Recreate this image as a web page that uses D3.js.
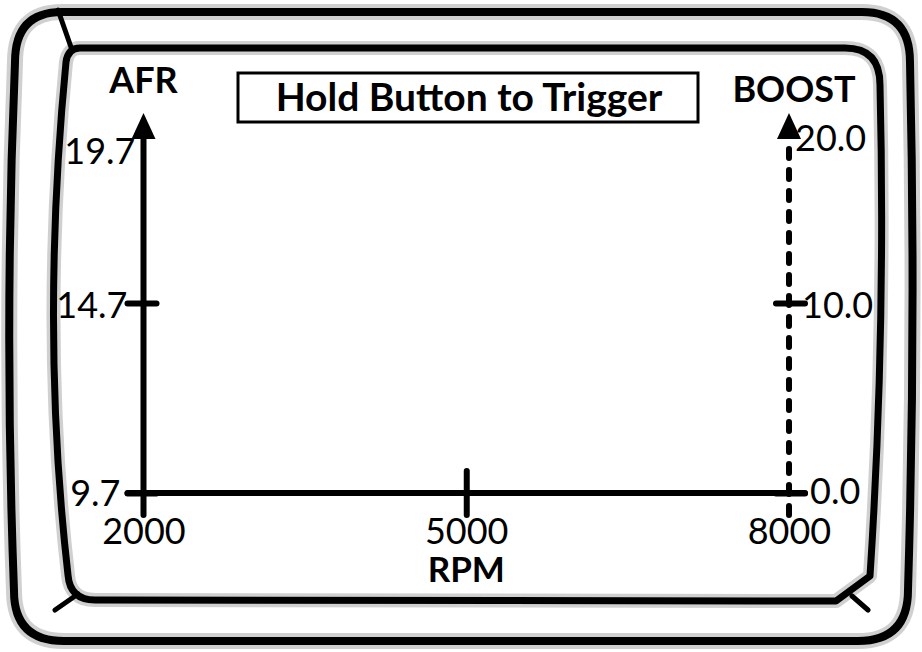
<!DOCTYPE html>
<html><head><meta charset="utf-8">
<script src="https://cdn.jsdelivr.net/npm/d3@7"></script>
<style>
html,body{margin:0;padding:0;background:#fff;}
svg{display:block;}
text{font-family:Lato,"Open Sans",sans-serif;fill:#000;}
</style></head><body>
<svg id="chart" width="922" height="652"></svg>
<script>
// ---- data ----
const rpmTicks = [2000, 5000, 8000];
const afrTicks = [9.7, 14.7, 19.7];
const boostTicks = [0.0, 10.0, 20.0];
const afrSeries = [];   // no trace recorded yet
const boostSeries = [];
const titleText = "Hold Button to Trigger";
const xTitle = "RPM", leftTitle = "AFR", rightTitle = "BOOST";

// ---- layout ----
const svg = d3.select("#chart");
const x = d3.scaleLinear().domain([rpmTicks[0], rpmTicks[rpmTicks.length-1]]).range([143.5, 789]);
const yL = d3.scaleLinear().domain([afrTicks[0], afrTicks[afrTicks.length-1]]).range([493, 113]);
const yR = d3.scaleLinear().domain([boostTicks[0], boostTicks[boostTicks.length-1]]).range([493, 113]);
const baseY = yL.range()[0];
const topY = yL.range()[1];

svg.append("rect").attr("width", 922).attr("height", 652).attr("fill", "#fff");

// ---- frame ----
const frame = svg.append("g").attr("fill", "none").attr("stroke", "#000").attr("stroke-linejoin", "round").attr("stroke-linecap", "round");
const outerD = "M62,12 L862,12 Q910,12 910,62 Q916,326 908,590 Q908,641 858,641 L64,641 Q14,641 14,591 Q4,326 15,62 Q15,12 62,12 Z";
const innerD = "M80,48 L845,48 Q880,48 880,85 Q886,330 870,576 L836,601 L95,600 Q70,600 68,575 Q40,330 66,62 Q68,48 80,48 Z";
// soft scan halo
frame.append("path").attr("stroke", "#aaa").attr("stroke-width", 16).attr("stroke-opacity", 0.55).attr("d", outerD);
frame.append("path").attr("stroke", "#aaa").attr("stroke-width", 14).attr("stroke-opacity", 0.55).attr("d", innerD);
// outer
frame.append("path").attr("stroke-width", 8).attr("d", outerD);
// inner
frame.append("path").attr("stroke-width", 7).attr("d", innerD);
// corner bevels
frame.append("path").attr("stroke-width", 5)
  .attr("d", "M58,10 L72,50 M55,610 L78,594 M852,596 L868,610");
// cover halo spill inside the screen
svg.append("path").attr("fill", "#fff")
  .attr("d", "M86,56 L840,56 Q872,56 872,88 Q878,330 862,572 L832,593 L98,592 Q78,592 76,572 Q49,330 74,66 Q76,56 86,56 Z");

// ---- title ----
svg.append("rect").attr("x", 238).attr("y", 73).attr("width", 460).attr("height", 49)
  .attr("fill", "#fff").attr("stroke", "#000").attr("stroke-width", 3);
svg.append("text").attr("x", 469).attr("y", 111).attr("text-anchor", "middle")
  .attr("font-weight", 700).attr("font-size", 39).text(titleText);

// ---- x axis ----
const gx = svg.append("g").attr("transform", `translate(0,${baseY})`)
  .call(d3.axisBottom(x).tickValues(rpmTicks).tickFormat(d3.format("d")).tickSizeOuter(0));
gx.select(".domain").remove();
gx.selectAll(".tick line").attr("y1", -22).attr("y2", 22)
  .attr("stroke", "#000").attr("stroke-width", 6).attr("stroke-linecap", "round")
  .attr("display", (d, i) => (i === 0 || i === rpmTicks.length-1) ? "none" : null);
gx.selectAll(".tick text").attr("y", 51).attr("dy", null)
  .attr("font-size", 36).attr("font-family", "Lato").attr("fill", "#000");
gx.append("line").attr("x1", x.range()[0]-16).attr("x2", x.range()[1]+16)
  .attr("stroke", "#000").attr("stroke-width", 6).attr("stroke-linecap", "round");

// ---- left axis (AFR) ----
const leftDx = [-23, -16, -8], leftDy = [12, 14, 50];
const gl = svg.append("g").attr("transform", `translate(${x.range()[0]},0)`)
  .call(d3.axisLeft(yL).tickValues(afrTicks).tickFormat(d3.format(".1f")).tickSizeOuter(0));
gl.select(".domain").remove();
gl.selectAll(".tick line").attr("x1", -16).attr("x2", 13)
  .attr("stroke", "#000").attr("stroke-width", 6).attr("stroke-linecap", "round")
  .attr("display", (d, i) => i === afrTicks.length-1 ? "none" : null);
gl.selectAll(".tick text").attr("x", (d, i) => leftDx[i]).attr("y", (d, i) => leftDy[i]).attr("dy", null)
  .attr("font-size", 36).attr("font-family", "Lato").attr("fill", "#000");
gl.append("line").attr("y1", baseY + 22).attr("y2", topY + 25)
  .attr("stroke", "#000").attr("stroke-width", 6).attr("stroke-linecap", "round");
gl.append("path").attr("d", `M0,${topY} L-12,${topY+26} L12,${topY+26} Z`).attr("fill", "#000");
svg.append("text").attr("x", x.range()[0]).attr("y", 93).attr("text-anchor", "middle")
  .attr("font-weight", 700).attr("font-size", 36).text(leftTitle);

// ---- right axis (BOOST) ----
const rightDx = [21, 13, 6], rightDy = [10, 14, 37];
const gr = svg.append("g").attr("transform", `translate(${x.range()[1]},0)`)
  .call(d3.axisRight(yR).tickValues(boostTicks).tickFormat(d3.format(".1f")).tickSizeOuter(0));
gr.select(".domain").remove();
gr.selectAll(".tick line").attr("x1", -13).attr("x2", 16)
  .attr("stroke", "#000").attr("stroke-width", 6).attr("stroke-linecap", "round")
  .attr("display", (d, i) => i === boostTicks.length-1 ? "none" : null);
gr.selectAll(".tick text").attr("x", (d, i) => rightDx[i]).attr("y", (d, i) => rightDy[i]).attr("dy", null)
  .attr("text-anchor", "start")
  .attr("font-size", 36).attr("font-family", "Lato").attr("fill", "#000");
gr.append("line").attr("y1", baseY + 22).attr("y2", topY + 32)
  .attr("stroke", "#000").attr("stroke-width", 6).attr("stroke-linecap", "round")
  .attr("stroke-dasharray", "9,12");
gr.append("path").attr("d", `M0,${topY} L-12,${topY+26} L12,${topY+26} Z`).attr("fill", "#000");
svg.append("text").attr("x", x.range()[1] + 5).attr("y", 102).attr("text-anchor", "middle")
  .attr("font-weight", 700).attr("font-size", 36).text(rightTitle);

// ---- x title ----
svg.append("text").attr("x", x(rpmTicks[1])).attr("y", 582).attr("text-anchor", "middle")
  .attr("font-weight", 700).attr("font-size", 35).text(xTitle);

// ---- data traces (empty until triggered) ----
const line = d3.line().x(d => x(d[0]));
svg.append("path").datum(afrSeries).attr("fill", "none").attr("stroke", "#000")
  .attr("d", line.y(d => yL(d[1])));
svg.append("path").datum(boostSeries).attr("fill", "none").attr("stroke", "#000").attr("stroke-dasharray", "4,4")
  .attr("d", line.y(d => yR(d[1])));
</script>
</body></html>
